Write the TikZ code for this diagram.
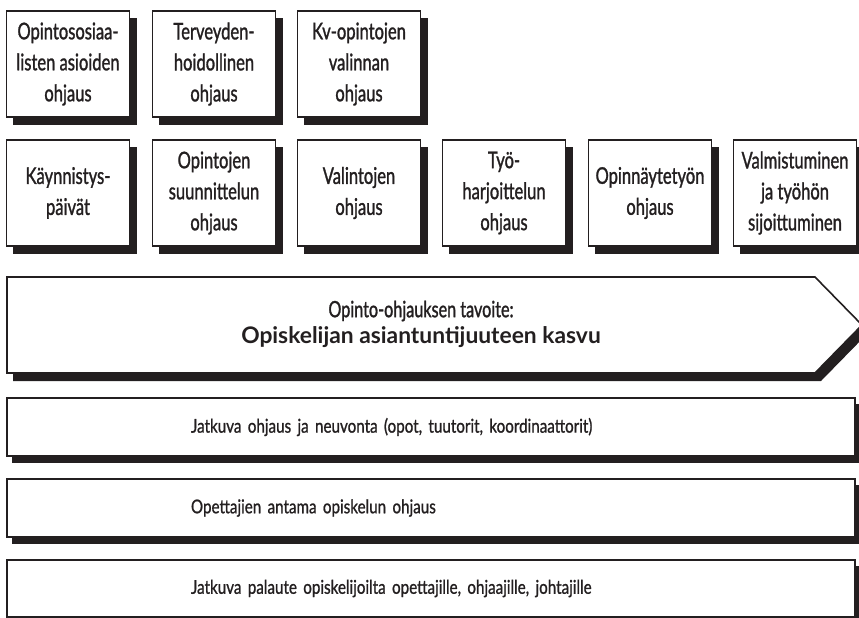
\documentclass[tikz,border=0pt]{standalone}
\usepackage{fontspec}
\setmainfont{Lato}
\newfontfamily\condfont{Lato}[FakeStretch=0.72,FakeBold=1.2]
\newfontfamily\midfont{Lato}[FakeStretch=0.8,FakeBold=1]
\usetikzlibrary{calc}
\definecolor{ink}{HTML}{231F20}
\begin{document}
\begin{tikzpicture}[x=1pt,y=-1pt,
  card/.style={draw=ink, line width=1.6pt, fill=white, minimum width=123pt, minimum height=106pt,
    inner sep=0pt, align=center, text=ink, font=\condfont\fontsize{23}{31}\selectfont},
  bar/.style={draw=ink, line width=1.6pt, fill=white, minimum width=848pt, minimum height=58pt,
    inner ysep=0pt, inner xsep=184pt, text width=480pt, align=left, text=ink,
    font=\midfont\fontsize{19}{24}\selectfont},
  shadowfill/.style={fill=ink, draw=none}]
\useasboundingbox (0,0) rectangle (859,618);
% centres
\coordinate (a1c) at (68,64);
\coordinate (a2c) at (214,64);
\coordinate (a3c) at (359,64);
\coordinate (b1c) at (68,193);
\coordinate (b2c) at (214,193);
\coordinate (b3c) at (359,193);
\coordinate (b4c) at (504,193);
\coordinate (b5c) at (650,193);
\coordinate (b6c) at (795,193);
\coordinate (c1c) at (431,427);
\coordinate (c2c) at (431,508);
\coordinate (c3c) at (431,588.5);
% shadows, drawn first
\fill[shadowfill] ($(a1c)+(-55.5,-46)$) -- ($(a1c)+(68.8,-46)$) -- ($(a1c)+(68.8,61)$) -- ($(a1c)+(-55.5,61)$) -- cycle;
\fill[shadowfill] ($(a2c)+(-55.5,-46)$) -- ($(a2c)+(68.8,-46)$) -- ($(a2c)+(68.8,61)$) -- ($(a2c)+(-55.5,61)$) -- cycle;
\fill[shadowfill] ($(a3c)+(-55.5,-46)$) -- ($(a3c)+(68.8,-46)$) -- ($(a3c)+(68.8,61)$) -- ($(a3c)+(-55.5,61)$) -- cycle;
\fill[shadowfill] ($(b1c)+(-55.5,-46)$) -- ($(b1c)+(68.8,-46)$) -- ($(b1c)+(68.8,61)$) -- ($(b1c)+(-55.5,61)$) -- cycle;
\fill[shadowfill] ($(b2c)+(-55.5,-46)$) -- ($(b2c)+(68.8,-46)$) -- ($(b2c)+(68.8,61)$) -- ($(b2c)+(-55.5,61)$) -- cycle;
\fill[shadowfill] ($(b3c)+(-55.5,-46)$) -- ($(b3c)+(68.8,-46)$) -- ($(b3c)+(68.8,61)$) -- ($(b3c)+(-55.5,61)$) -- cycle;
\fill[shadowfill] ($(b4c)+(-55.5,-46)$) -- ($(b4c)+(68.8,-46)$) -- ($(b4c)+(68.8,61)$) -- ($(b4c)+(-55.5,61)$) -- cycle;
\fill[shadowfill] ($(b5c)+(-55.5,-46)$) -- ($(b5c)+(68.8,-46)$) -- ($(b5c)+(68.8,61)$) -- ($(b5c)+(-55.5,61)$) -- cycle;
\fill[shadowfill] ($(b6c)+(-55.5,-46)$) -- ($(b6c)+(68.8,-46)$) -- ($(b6c)+(68.8,61)$) -- ($(b6c)+(-55.5,61)$) -- cycle;
\fill[shadowfill] ($(c1c)+(-419,-23)$) -- ($(c1c)+(431,-23)$) -- ($(c1c)+(431,36.3)$) -- ($(c1c)+(-419,36.3)$) -- cycle;
\fill[shadowfill] ($(c2c)+(-419,-23)$) -- ($(c2c)+(431,-23)$) -- ($(c2c)+(431,36.3)$) -- ($(c2c)+(-419,36.3)$) -- cycle;
\fill[shadowfill] ($(c3c)+(-419,-23)$) -- ($(c3c)+(431,-23)$) -- ($(c3c)+(431,36.3)$) -- ($(c3c)+(-419,36.3)$) -- cycle;
% top row
\node[card] (a1) at (a1c) {Opintososiaa-\\listen asioiden\\ohjaus};
\node[card] (a2) at (a2c) {Terveyden-\\hoidollinen\\ohjaus};
\node[card] (a3) at (a3c) {Kv-opintojen\\valinnan\\ohjaus};
% second row
\node[card] (b1) at (b1c) {Käynnistys-\\päivät};
\node[card] (b2) at (b2c) {Opintojen\\suunnittelun\\ohjaus};
\node[card] (b3) at (b3c) {Valintojen\\ohjaus};
\node[card] (b4) at (b4c) {Työ-\\harjoittelun\\ohjaus};
\node[card] (b5) at (b5c) {Opinnäytetyön\\ohjaus};
\node[card] (b6) at (b6c) {Valmistuminen\\ja työhön\\sijoittuminen};
% bars
\node[bar] (c1) at (c1c) {Jatkuva ohjaus ja neuvonta (opot, tuutorit, koordinaattorit)};
\node[bar] (c2) at (c2c) {Opettajien antama opiskelun ohjaus};
\node[bar, minimum height=57pt] (c3) at (c3c) {Jatkuva palaute opiskelijoilta opettajille, ohjaajille, johtajille};
% arrow
\coordinate (p1) at (7,277);
\coordinate (p2) at (815,277);
\coordinate (p3) at (862,325);
\coordinate (p4) at (815,373);
\coordinate (p5) at (7,373);
\fill[shadowfill] ($(p1)+(6,8)$) -- ($(p2)+(6,8)$) -- ($(p3)+(6,8)$) -- ($(p4)+(6,8)$) -- ($(p5)+(6,8)$) -- cycle;
\draw[ink, line width=1.6pt, fill=white, line join=miter] (p1) -- (p2) -- (p3) -- (p4) -- (p5) -- cycle;
\node[align=center, text=ink] (goal) at (421,324)
  {{\condfont\fontsize{22.5}{30}\selectfont Opinto-ohjauksen tavoite:}\\[4pt]
   {\fontsize{22.8}{26}\selectfont\bfseries Opiskelijan asiantuntijuuteen kasvu}};
\end{tikzpicture}
\end{document}
